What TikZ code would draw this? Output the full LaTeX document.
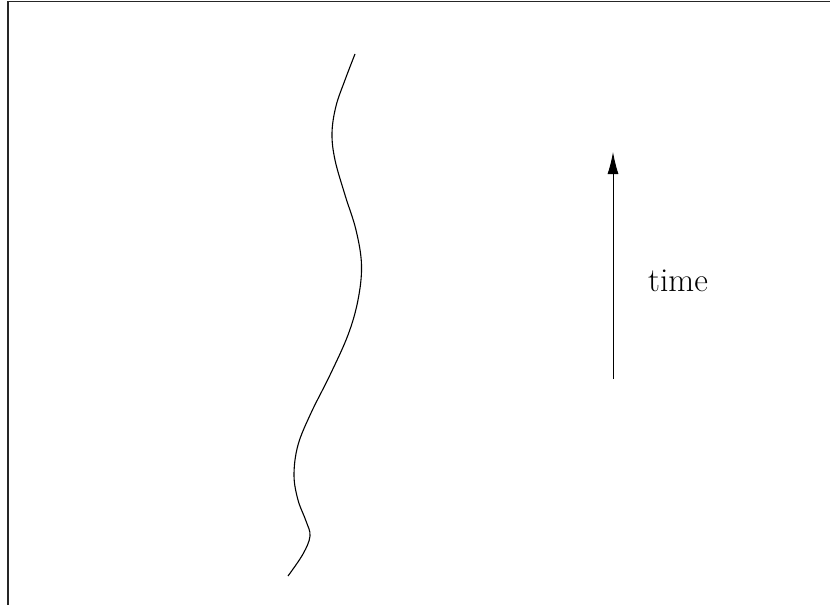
\documentclass[tikz,border=0pt]{standalone}
\usetikzlibrary{arrows.meta}
\begin{document}
\begin{tikzpicture}[x=1pt,y=-1pt,
  frame/.style={line width=1.4pt,draw=black!85},
  worldline/.style={line width=1.1pt},
  timearrow/.style={line width=0.9pt,-{Latex[length=22pt,width=11pt]}}]
\useasboundingbox (0,0) rectangle (830,605);
\draw[frame] (8,605) -- (8,1.5) -- (830,1.5);
\draw[worldline] plot[smooth,tension=0.6] coordinates {
 (355,54) (345,80) (336,106) (332,133) (335,160) (345,195) (356,230)
 (361.5,265) (358,300) (348,335) (330,375) (311,413) (298,445)
 (294,475) (298,500) (306,521) (310,536) (303,554) (288,576)};
\coordinate (tbot) at (613,379);
\coordinate (ttop) at (613,152);
\draw[timearrow] (tbot) -- (ttop);
\node[font=\fontsize{33.5}{40}\selectfont] (tl) at (678,281) {time};
\end{tikzpicture}
\end{document}
